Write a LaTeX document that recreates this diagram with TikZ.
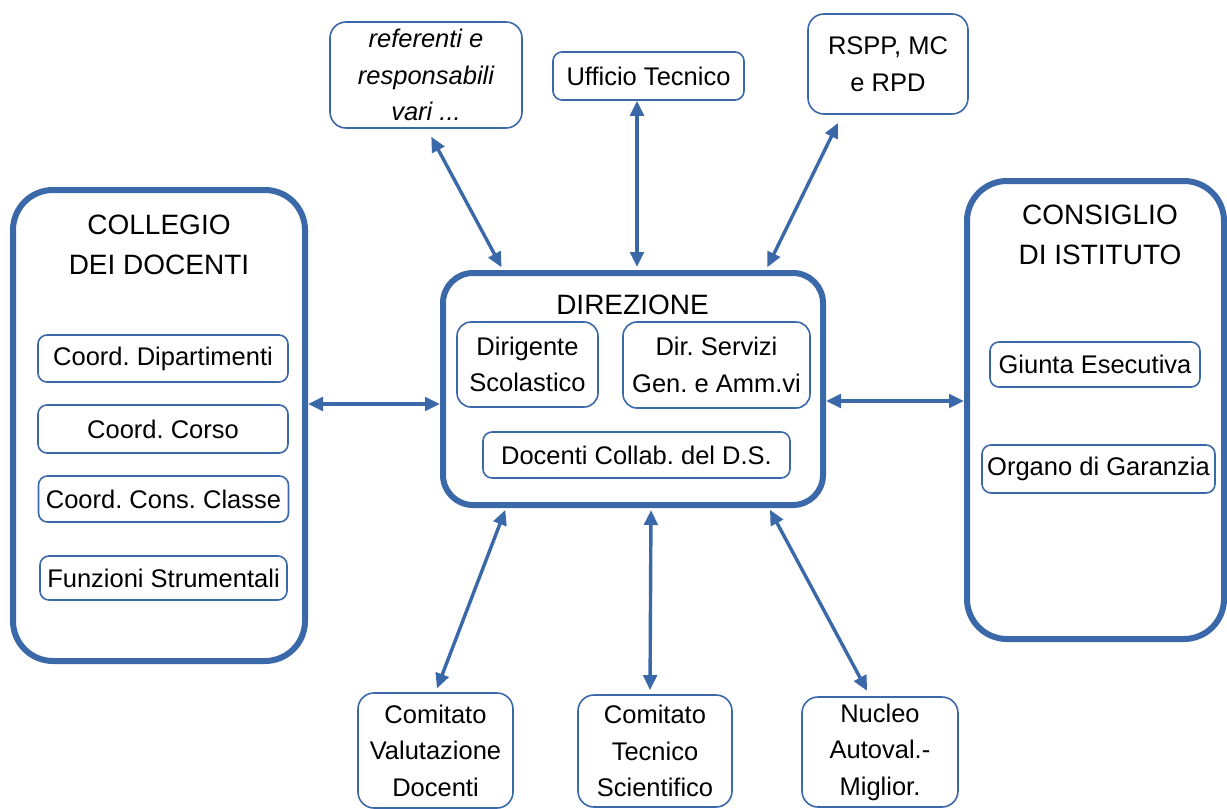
\documentclass[tikz,border=0pt]{standalone}
\usepackage{fontspec}
\setmainfont{Liberation Sans}
\usetikzlibrary{arrows.meta,calc}
\definecolor{orgblue}{RGB}{58,104,168}
\frenchspacing
\tikzset{%
  every box/.style={
    draw=orgblue,
    text=black,
    align=center,
    inner sep=0pt,
    font=\fontsize{25.5}{36.5}\selectfont
  },
  big box/.style={
    every box,
    line width=6pt,
    rounded corners=40pt
  },
  unit box/.style={
    every box,
    line width=1.6pt,
    rounded corners=9pt
  },
  outer box/.style={
    every box,
    line width=1.6pt,
    rounded corners=16pt
  },
  box title/.style={
    align=center,
    text=black,
    inner sep=0pt,
    font=\fontsize{28}{40}\selectfont
  },
  link/.style={
    draw=orgblue,
    line width=3.4pt,
    {Triangle[length=15pt,width=13.5pt]}-{Triangle[length=15pt,width=13.5pt]}
  },
}

\begin{document}
\begin{tikzpicture}[x=1pt, y=-1pt]

\useasboundingbox (0,0) rectangle (1227,809);

% the three main bodies
\node [big box, minimum width=292, minimum height=471] (collegio) at (159,425.5) {};
\node [box title] (collegio-title) at (159,245) {COLLEGIO\\DEI DOCENTI};

\node [big box, rounded corners=30pt, minimum width=380, minimum height=232] (direzione) at (633,389) {};
\node [box title] (direzione-title) at (632.5,305) {DIREZIONE};

\node [big box, minimum width=257, minimum height=458] (consiglio) at (1095.5,410) {};
\node [box title] (consiglio-title) at (1100,234.5) {CONSIGLIO\\DI ISTITUTO};

% inside the collegio
\node [unit box, minimum width=250, minimum height=47] (coord-dip) at (163,358.5) {Coord. Dipartimenti};
\node [unit box, minimum width=250, minimum height=48] (coord-corso) at (163,429) {Coord. Corso};
\node [unit box, minimum width=250, minimum height=46] (coord-classe) at (163.5,499) {Coord. Cons. Classe};
\node [unit box, minimum width=247, minimum height=44] (funzioni) at (163.5,578) {Funzioni Strumentali};

% inside the direzione
\node [unit box, rounded corners=14pt, minimum width=141, minimum height=85] (dirigente) at (527.5,364.5) {Dirigente\\Scolastico};
\node [unit box, rounded corners=14pt, minimum width=187, minimum height=86] (dsga) at (716.5,365) {Dir. Servizi\\Gen. e Amm.vi};
\node [unit box, minimum width=307, minimum height=46] (collab) at (636.5,455) {Docenti Collab. del D.S.};

% inside the consiglio
\node [unit box, minimum width=210, minimum height=45] (giunta) at (1095,364.5) {Giunta Esecutiva};
\node [unit box, minimum width=233, minimum height=48] (garanzia) at (1098.5,469) {Organo di Garanzia};

% top row
\node [outer box, minimum width=192, minimum height=106] (referenti) at (426,75) {\itshape referenti e\\\itshape responsabili\\\itshape vari ...};
\node [outer box, rounded corners=9pt, minimum width=191, minimum height=48] (ufficio) at (648.5,76) {Ufficio Tecnico};
\node [outer box, minimum width=160, minimum height=100] (rspp) at (888,64) {RSPP, MC\\e RPD};

% bottom row
\node [outer box, minimum width=155, minimum height=115] (valutazione) at (435.5,750.5) {Comitato\\Valutazione\\Docenti};
\node [outer box, minimum width=154, minimum height=112] (cts) at (655,751) {Comitato\\Tecnico\\Scientifico};
\node [outer box, minimum width=156, minimum height=110] (nucleo) at (880,752) {Nucleo\\Autoval.-\\Miglior.};

% connectors
\draw [link] (collegio.east |- 0,404) -- (direzione.west |- 0,404);
\draw [link] (direzione.east |- 0,401) -- (consiglio.west |- 0,401);

\draw [link, shorten <=9pt, shorten >=3pt] ([xshift=1]referenti.south) -- ([xshift=-130]direzione.north);
\draw [link, shorten >=3pt] ([xshift=-11.5]ufficio.south) -- ([xshift=-11.5]ufficio.south |- direzione.north);
\draw [link, shorten <=9pt, shorten >=3pt] ([xshift=-46]rspp.south) -- ([xshift=133]direzione.north);

\draw [link, shorten <=2pt, shorten >=4pt] ([xshift=-127]direzione.south) -- (valutazione.north);
\draw [link, shorten <=2pt, shorten >=4pt] ([xshift=18]direzione.south) -- ([xshift=-5]cts.north);
\draw [link, shorten <=2pt, shorten >=6pt] ([xshift=136]direzione.south) -- ([xshift=-10]nucleo.north);

\end{tikzpicture}
\end{document}
